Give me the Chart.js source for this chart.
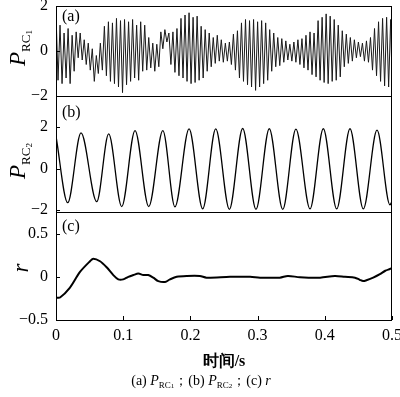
<!DOCTYPE html>
<html><head><meta charset="utf-8">
<script src="https://cdn.jsdelivr.net/npm/chart.js@4"></script>
<style>
html,body{margin:0;padding:0;background:#fff;}
#wrap{position:relative;width:400px;height:397px;overflow:hidden;background:#fff;}
canvas.c{position:absolute;left:0;top:0;}
.lab{position:absolute;font-family:'Liberation Serif',serif;color:#000;white-space:nowrap;line-height:1;}
.rot{transform:translate(-50%,-50%) rotate(-90deg);}
.P{font-style:italic;font-size:23px;}
.s1{font-size:13px;position:relative;top:5px;}
.s2{font-size:9px;position:relative;top:2px;}
</style></head>
<body><div id="wrap">
<canvas id="cA" class="c" width="400" height="397"></canvas>
<canvas id="cB" class="c" width="400" height="397"></canvas>
<canvas id="cC" class="c" width="400" height="397"></canvas>
<div class="lab rot" style="left:17px;top:48px;"><span class="P">P</span><span class="s1">RC<span class="s2">1</span></span></div>
<div class="lab rot" style="left:17px;top:161px;"><span class="P">P</span><span class="s1">RC<span class="s2">2</span></span></div>
<div class="lab rot" style="left:20px;top:268px;"><span class="P">r</span></div>
<div class="lab" style="left:62px;top:8px;font-size:16px;">(a)</div>
<div class="lab" style="left:62px;top:104px;font-size:16px;">(b)</div>
<div class="lab" style="left:62px;top:218px;font-size:16px;">(c)</div>
<div class="lab" style="left:224px;top:361px;transform:translate(-50%,-50%);font-size:16px;font-weight:bold;">时间/s</div>
<div class="lab" style="left:201px;top:381px;transform:translate(-50%,-50%);font-size:14px;">(a) <i>P</i><span style="font-size:9px;position:relative;top:3px">RC<span style="font-size:7px">1</span></span>；(b) <i>P</i><span style="font-size:9px;position:relative;top:3px">RC<span style="font-size:7px">2</span></span>；(c) <i>r</i></div>
</div>
<script>
// ---- data ----
const tA = [0,0.003,0.006,0.009,0.012,0.015,0.018,0.021,0.024,0.027,
0.03,0.033,0.036,0.039,0.042,0.045,0.048,0.051,0.054,0.057,
0.06,0.063,0.066,0.069,0.072,0.075,0.078,0.081,0.084,0.087,
0.09,0.093,0.096,0.099,0.102,0.105,0.108,0.111,0.114,0.117,
0.12,0.123,0.126,0.129,0.132,0.135,0.138,0.141,0.144,0.147,
0.15,0.153,0.156,0.159,0.162,0.165,0.168,0.171,0.174,0.177,
0.18,0.183,0.186,0.189,0.192,0.195,0.198,0.201,0.204,0.207,
0.21,0.213,0.216,0.219,0.222,0.225,0.228,0.231,0.234,0.237,
0.24,0.243,0.246,0.249,0.252,0.255,0.258,0.261,0.264,0.267,
0.27,0.273,0.276,0.279,0.282,0.285,0.288,0.291,0.294,0.297,
0.3,0.303,0.306,0.309,0.312,0.315,0.318,0.321,0.324,0.327,
0.33,0.333,0.336,0.339,0.342,0.345,0.348,0.351,0.354,0.357,
0.36,0.363,0.366,0.369,0.372,0.375,0.378,0.381,0.384,0.387,
0.39,0.393,0.396,0.399,0.402,0.405,0.408,0.411,0.414,0.417,
0.42,0.423,0.426,0.429,0.432,0.435,0.438,0.441,0.444,0.447,
0.45,0.453,0.456,0.459,0.462,0.465,0.468,0.471,0.474,0.477,
0.48,0.483,0.486,0.489,0.492,0.495,0.498,0.5];
const pRC1 = [1.7,-1.3,1.15,-1.45,0.8,-1.2,1.0,-1.45,0.7,-0.9,
0.85,-0.3,0.8,-0.4,0.5,-0.6,0.35,-0.85,0.1,-1.35,
-0.2,-1.0,0.35,-0.85,1.1,-1.1,1.3,-1.35,1.25,-1.45,
1.45,-1.6,1.35,-1.85,1.4,-1.5,1.3,-1.35,1.4,-1.2,
1.15,-1.3,1.3,-0.9,1.15,-0.85,0.6,-0.75,0.35,-0.9,
0.3,-0.7,0.85,0.1,0.95,0.4,0.8,-0.6,0.85,-0.95,
1.0,-1.1,1.45,-1.2,1.6,-1.35,1.7,-1.45,1.5,-1.4,
1.55,-1.3,1.1,-1.2,0.95,-0.9,0.8,-0.7,0.6,-0.55,
0.7,-0.45,0.5,-0.5,0.35,-0.45,0.4,-0.6,0.75,-0.85,
0.9,-1.2,1.25,-1.35,1.4,-1.5,1.35,-1.6,1.4,-1.75,
1.3,-1.6,1.35,-1.45,1.25,-1.3,0.95,-0.9,0.8,-0.7,
0.6,-0.65,0.55,-0.5,0.45,-0.4,0.3,-0.45,0.4,-0.5,
0.5,-0.6,0.55,-0.75,0.7,-0.85,0.85,-1.05,0.8,-1.15,
1.35,-1.3,1.5,-1.4,1.65,-1.45,1.55,-1.35,1.4,-1.3,
1.15,-1.15,0.9,-0.7,0.75,-0.55,0.6,-0.45,0.5,-0.3,
0.4,-0.25,0.35,-0.45,0.45,-0.5,0.6,-0.85,1.0,-1.1,
1.3,-1.35,1.45,-1.55,1.5,-1.6,1.4,-1.3];

const tB = [0,0.0174,0.0372,0.0606,0.0784,0.0978,0.1176,0.138,0.159,0.177,0.198,0.2183,0.2377,0.258,0.2778,0.2976,0.3174,0.3374,0.357,0.378,0.3978,0.4177,0.4375,0.4573,0.4777,0.497,0.5];
const pRC2 = [1.56,-1.65,1.72,-1.6,1.67,-1.84,1.83,-1.84,1.83,-1.85,1.91,-1.95,1.91,-1.97,1.93,-1.97,1.92,-1.97,1.9,-1.95,1.92,-1.95,1.92,-1.95,1.85,-1.75,-1.6];

const tC = [0,0.006,0.0208,0.0357,0.0506,0.0555,0.0655,0.0754,0.0853,0.0927,0.1,0.1076,0.115,0.1225,0.13,0.1373,0.1448,0.1522,0.1622,0.1696,0.1796,0.1945,0.214,0.224,0.259,0.289,0.3036,0.333,0.345,0.363,0.393,0.415,0.43,0.445,0.452,0.457,0.462,0.472,0.482,0.49,0.497,0.5];
const rC = [-0.24,-0.24,-0.125,0.056,0.18,0.21,0.18,0.11,0.02,-0.03,-0.03,0,0.02,0.037,0.02,0.02,-0.01,-0.05,-0.06,-0.03,0,0.01,0.01,-0.01,0,0,-0.01,-0.01,0.01,-0.005,-0.01,0.01,0,-0.01,-0.035,-0.05,-0.04,-0.01,0.03,0.07,0.09,0.1];

const xTicks = [0,0.1,0.2,0.3,0.4,0.5];
const yTicksA = [-2,0,2];
const yTicksB = [-2,0,2];
const yTicksC = [-0.5,0,0.5];

// ---- drawing ----
const FONT = {family:"'Liberation Serif', serif", size:16};
const fmt = v => String(v).replace('-', '\u2212');

const frame = {
  id:'frame',
  afterDatasetsDraw(chart, args, o){
    const {ctx, chartArea:a, scales} = chart;
    ctx.save();
    ctx.strokeStyle = '#000'; ctx.lineWidth = 1;
    ctx.strokeRect(a.left+0.5, a.top+0.5, a.right-a.left-1, a.bottom-a.top);
    ctx.beginPath();
    scales.y.ticks.forEach(t => {
      const p = Math.round(scales.y.getPixelForValue(t.value)) + 0.5;
      ctx.moveTo(a.left, p); ctx.lineTo(a.left+4, p);
    });
    if (o.xt) {
      scales.x.ticks.forEach(t => {
        const p = Math.round(scales.x.getPixelForValue(t.value)) + 0.5;
        ctx.moveTo(p, a.bottom); ctx.lineTo(p, a.bottom-4);
      });
    }
    ctx.stroke();
    ctx.restore();
  }
};

function make(id, xs, ys, yMin, yMax, yTicks, top, bottom, showX, lw, color, mode){
  const xH = 30;
  return new Chart(document.getElementById(id), {
    type:'line',
    data:{datasets:[{
      data: xs.map((x,i)=>({x:x, y:ys[i]})),
      borderColor:color, borderWidth:lw, pointRadius:0, fill:false,
      tension: mode==='mono'?0:(mode||0), cubicInterpolationMode: mode==='mono'?'monotone':'default'
    }]},
    options:{
      responsive:false, animation:false, events:[],
      layout:{padding:{left:0, right:8, top:top, bottom:397-bottom-(showX?xH:0)}},
      plugins:{legend:{display:false}, tooltip:{enabled:false}, frame:{xt:showX}},
      scales:{
        x:{type:'linear', min:0, max:0.5, display:showX,
           grid:{display:false, drawTicks:false}, border:{display:false},
           afterBuildTicks: s => { s.ticks = xTicks.map(v=>({value:v})); },
           afterFit: s => { s.height = showX ? xH : 0; s.paddingLeft = 0; s.paddingRight = 0; },
           ticks:{font:FONT, color:'#000', padding:6, maxRotation:0, autoSkip:false, callback: v => fmt(v)}},
        y:{type:'linear', min:yMin, max:yMax,
           grid:{display:false, drawTicks:false}, border:{display:false},
           afterBuildTicks: s => { s.ticks = yTicks.map(v=>({value:v})); },
           afterFit: s => { s.width = 56; s.paddingTop = 0; s.paddingBottom = 0; },
           ticks:{font:FONT, color:'#000', padding:8, callback: v => fmt(v)}}
      }
    },
    plugins:[frame]
  });
}

make('cA', tA, pRC1, -2, 2, yTicksA, 6, 96, false, 1, '#1a1a1a', 0);
make('cB', tB, pRC2, -2.1, 3.5, yTicksB, 96, 212, false, 1.3, '#000', 'mono');
make('cC', tC, rC, -0.5, 0.75, yTicksC, 212, 320, true, 2, '#000', 0.3);
</script>
</body></html>
